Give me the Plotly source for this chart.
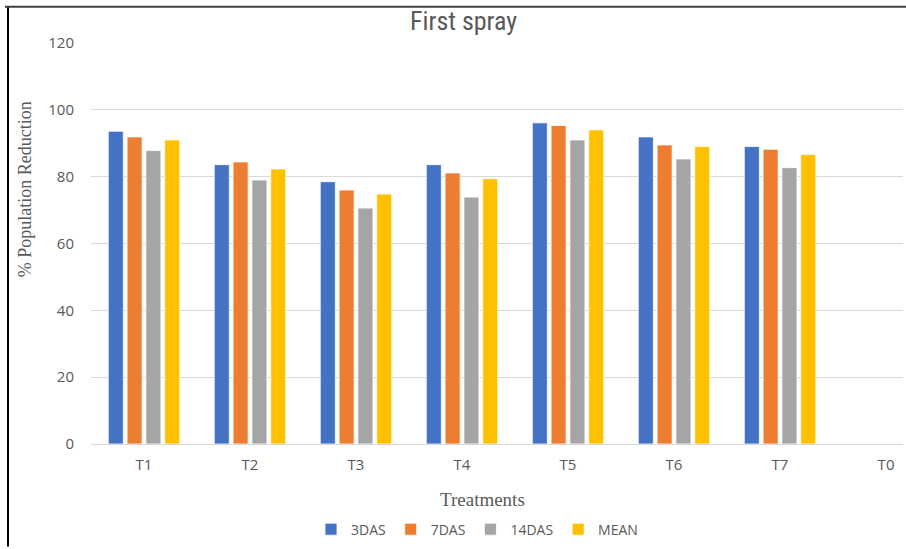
import plotly.graph_objects as go

categories = ["T1", "T2", "T3", "T4", "T5", "T6", "T7", "T0"]
das3 = [93.6, 83.6, 78.5, 83.6, 96.1, 91.9, 89.0, None]
das7 = [91.9, 84.4, 76.0, 81.1, 95.3, 89.5, 88.2, None]
das14 = [87.8, 79.0, 70.6, 73.9, 91.0, 85.3, 82.7, None]
mean = [91.0, 82.3, 74.8, 79.4, 94.0, 89.0, 86.6, None]

series_names = ["3DAS", "7DAS", "14DAS", "MEAN"]
series_values = [das3, das7, das14, mean]
colors = ["#4472C4", "#ED7D31", "#A5A5A5", "#FFC000"]

W, H = 906, 549
L, R, T, B = 91, 903, 43, 446


def px(x):
    return (x - L) / (R - L)


def py(y):
    return (B - y) / (B - T)


fig = go.Figure()
for name, vals, c in zip(series_names, series_values, colors):
    fig.add_trace(go.Bar(
        x=categories, y=vals, name=name,
        marker=dict(color=c, line=dict(color="white", width=0.8)),
    ))

tickfont = dict(family="Open Sans, Liberation Sans", size=15, color="#595959")

fig.update_layout(
    width=W, height=H,
    margin=dict(l=L, r=W - R, t=T, b=H - B, pad=0),
    paper_bgcolor="white", plot_bgcolor="white",
    barmode="group", bargap=0.29, bargroupgap=0.2,
    showlegend=True,
    legend=dict(orientation="h", x=px(477), xanchor="center", y=py(532), yanchor="middle",
                font=dict(family="Open Sans, Liberation Sans", size=14, color="#595959"),
                itemwidth=30, traceorder="normal", tracegroupgap=0),
    xaxis=dict(range=[-0.5, 7.16], showgrid=False, showline=False, zeroline=False,
               ticks="", ticklabelstandoff=10, tickfont=tickfont),
    yaxis=dict(range=[0, 120], dtick=20, showgrid=True, gridcolor="#D9D9D9", gridwidth=1,
               zeroline=True, zerolinecolor="#D9D9D9", zerolinewidth=1, showline=False,
               ticks="", ticklabelstandoff=16, tickfont=tickfont),
    annotations=[
        dict(text="First spray", x=px(463), y=py(21), xref="paper", yref="paper",
             xanchor="center", yanchor="middle", showarrow=False,
             font=dict(family="Liberation Sans Narrow, Roboto Condensed, Liberation Sans", size=26, color="#595959")),
        dict(text="% Population Reduction", x=px(25), y=py(190), xref="paper", yref="paper",
             xanchor="center", yanchor="middle", showarrow=False, textangle=-90,
             font=dict(family="Liberation Serif, DejaVu Serif, serif", size=18, color="#595959")),
        dict(text="Treatments", x=px(482), y=py(502), xref="paper", yref="paper",
             xanchor="center", yanchor="middle", showarrow=False,
             font=dict(family="Liberation Serif, DejaVu Serif, serif", size=19, color="#595959")),
    ],
    shapes=[
        dict(type="line", xref="paper", yref="paper", x0=px(8), x1=px(8), y0=py(6), y1=py(549),
             line=dict(color="black", width=2)),
        dict(type="line", xref="paper", yref="paper", x0=px(5), x1=px(906), y0=py(6.5), y1=py(6.5),
             line=dict(color="#404040", width=2)),
    ],
)

fig.write_html("out.html", config={"displayModeBar": False},
               post_script="document.body.style.margin='0';document.body.style.padding='0';")
